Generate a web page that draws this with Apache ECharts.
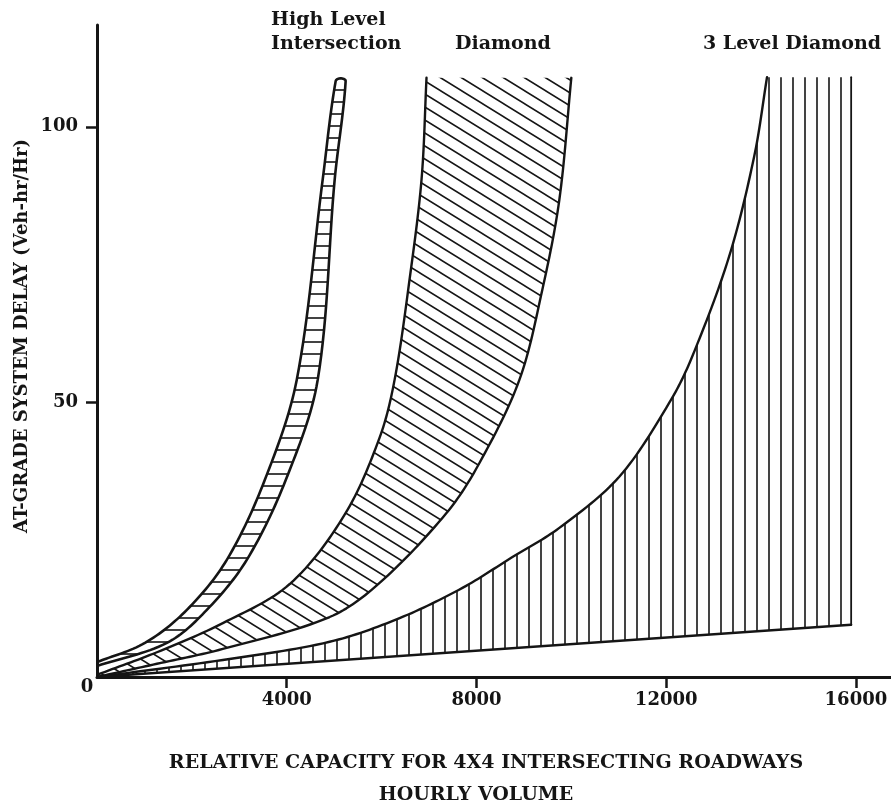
<!DOCTYPE html>
<html>
<head>
<meta charset="utf-8">
<script src="https://cdn.jsdelivr.net/npm/echarts@6/dist/echarts.min.js"></script>
<style>
  html, body { margin: 0; padding: 0; background: #fff; }
  #chart { width: 891px; height: 804px; }
</style>
</head>
<body>
<div id="chart"></div>
<script>
// Delay curves: [hourly volume, at-grade system delay (veh-hr/hr)]
const hliUpper = [[0, 2.7], [1011, 6.2], [1895, 12.2], [2737, 21.3], [3537, 35.8], [4211, 54], [4758, 90.4], [5032, 108.3]];
const hliLower = [[0, 2.0], [1474, 6.2], [2316, 12.2], [3158, 21.3], [3979, 35.8], [4653, 54], [5011, 90.4], [5242, 108.3]];
const hliCap = [[5137, 108.8]];

const diamondUpper = [[0, 0.4], [1263, 4.5], [2653, 9.8], [4063, 16.9], [5221, 29.5], [5958, 43.5], [6274, 54], [6589, 72.2], [6842, 90.4], [6947, 108.9]];
const diamondLower = [[0, 0], [1263, 2.4], [2653, 5.1], [4905, 10.9], [5958, 17.1], [7368, 29.8], [8063, 38.9], [8905, 54], [9389, 70.4], [9747, 86.7], [10000, 108.9]];

const threeUpper = [[0, 0], [2653, 3.1], [4905, 6.4], [6379, 10.7], [7705, 16.2], [8758, 21.8], [9747, 27.1], [11011, 36.4], [12063, 49.8], [12547, 58.2], [13326, 76.4], [13853, 94.5], [14126, 109]];
const threeLower = [[0, 0], [15900, 9.5]];
const threeEdge = [[15900, 9.5], [15900, 109]];

// Axis ticks
const xTicks = [4000, 8000, 12000, 16000];
const yTicks = [50, 100];

const INK = '#151515';
const FONT = 'DejaVu Serif';

// Hatch tiles used as repeating fills
function tile(w, h, draw) {
  const c = document.createElement('canvas');
  c.width = w; c.height = h;
  const g = c.getContext('2d');
  g.strokeStyle = INK;
  g.lineWidth = 1.6;
  g.beginPath();
  draw(g, w, h);
  g.stroke();
  return { image: c, repeat: 'repeat' };
}
const rungs = tile(12, 12, (g, w) => { g.moveTo(0, 6); g.lineTo(w, 6); });
const slants = tile(21, 13, (g, w, h) => {
  for (let k = -1; k <= 1; k++) {
    g.moveTo(-1, k * h - h / w);
    g.lineTo(w + 1, k * h + h + h / w);
  }
});
const verticals = tile(12, 12, (g, w, h) => { g.moveTo(1, 0); g.lineTo(1, h); });

// Smooth pixel path through the projected points (cubic segments with
// tangents taken from neighbouring points, handle length 1/3 of the chord).
function smoothPath(px) {
  const n = px.length;
  if (n < 3) return px.slice();
  const unit = (a, b) => {
    const dx = b[0] - a[0], dy = b[1] - a[1];
    const l = Math.hypot(dx, dy) || 1;
    return [dx / l, dy / l];
  };
  const tan = px.map((p, i) => unit(px[Math.max(0, i - 1)], px[Math.min(n - 1, i + 1)]));
  const out = [px[0]];
  for (let i = 0; i < n - 1; i++) {
    const a = px[i], b = px[i + 1];
    const d = Math.hypot(b[0] - a[0], b[1] - a[1]) / 3;
    const c1 = [a[0] + tan[i][0] * d, a[1] + tan[i][1] * d];
    const c2 = [b[0] - tan[i + 1][0] * d, b[1] - tan[i + 1][1] * d];
    const steps = 16;
    for (let s = 1; s <= steps; s++) {
      const t = s / steps, u = 1 - t;
      out.push([
        u * u * u * a[0] + 3 * u * u * t * c1[0] + 3 * u * t * t * c2[0] + t * t * t * b[0],
        u * u * u * a[1] + 3 * u * u * t * c1[1] + 3 * u * t * t * c2[1] + t * t * t * b[1]
      ]);
    }
  }
  return out;
}

// One shaded region: fill assembled from its pieces, plus its drawn edges
function region(data, fillPieces, edges, fill) {
  return {
    type: 'custom',
    coordinateSystem: 'cartesian2d',
    silent: true,
    clip: true,
    data: data,
    encode: { x: 0, y: 1 },
    renderItem: (params, api) => {
      if (params.dataIndex !== 0) return null;
      const proj = pts => pts.map(p => api.coord(p));
      const piece = pc => pc.smooth ? smoothPath(proj(pc.pts)) : proj(pc.pts);
      let poly = [];
      fillPieces.forEach(pc => {
        let px = piece(pc);
        if (pc.reverse) px = px.slice().reverse();
        poly = poly.concat(px);
      });
      const children = [{
        type: 'polygon',
        shape: { points: poly },
        style: { fill: fill, stroke: null },
        z2: 1
      }];
      edges.forEach(e => {
        children.push({
          type: 'polyline',
          shape: { points: e.smooth ? smoothPath(proj(e.pts)) : proj(e.pts) },
          style: { fill: null, stroke: INK, lineWidth: e.width, lineJoin: 'round', lineCap: 'round' },
          z2: 2
        });
      });
      return { type: 'group', children: children };
    }
  };
}

const hliChain = hliUpper.concat(hliCap, hliLower.slice().reverse());

const chart = echarts.init(document.getElementById('chart'), null, { renderer: 'canvas' });

const labelStyle = { color: INK, fontFamily: FONT, fontWeight: 'bold' };

chart.setOption({
  backgroundColor: '#ffffff',
  animation: false,
  grid: { left: 97, right: 0, top: 25, bottom: 127, containLabel: false },
  xAxis: {
    type: 'value',
    min: 0,
    max: 16740,
    splitLine: { show: false },
    axisLine: { lineStyle: { color: INK, width: 3 } },
    axisTick: { customValues: xTicks, length: 11, lineStyle: { color: INK, width: 2.5 } },
    axisLabel: Object.assign({ customValues: xTicks, fontSize: 18, margin: 14, formatter: v => String(v) }, labelStyle)
  },
  yAxis: {
    type: 'value',
    min: 0,
    max: 118.5,
    splitLine: { show: false },
    axisLine: { lineStyle: { color: INK, width: 3 } },
    axisTick: { customValues: yTicks, length: 11, lineStyle: { color: INK, width: 2.5 } },
    axisLabel: Object.assign({ customValues: yTicks, fontSize: 18, margin: 19, formatter: v => String(v) }, labelStyle)
  },
  series: [
    region(hliChain,
      [{ pts: hliChain, smooth: true }],
      [{ pts: hliChain, smooth: true, width: 2.6 }],
      rungs),
    region(diamondUpper,
      [{ pts: diamondUpper, smooth: true }, { pts: diamondLower, smooth: true, reverse: true }],
      [{ pts: diamondUpper, smooth: true, width: 2.4 }, { pts: diamondLower, smooth: true, width: 2.4 }],
      slants),
    region(threeUpper,
      [{ pts: threeUpper, smooth: true }, { pts: threeEdge.slice().reverse() }, { pts: threeLower.slice().reverse() }],
      [{ pts: threeUpper, smooth: true, width: 2.4 }, { pts: threeLower, width: 2.4 }, { pts: threeEdge, width: 1.8 }],
      verticals)
  ]
});

// Origin label and titles
const origin = chart.convertToPixel({ gridIndex: 0 }, [0, 0]);
const textStyle = (text, size, extra) => Object.assign({
  text: text, fill: INK, font: 'bold ' + size + 'px "' + FONT + '"'
}, extra || {});

chart.setOption({
  graphic: [
    { type: 'text', x: origin[0] - 10, y: origin[1] + 10,
      style: textStyle('0', 18, { align: 'center', verticalAlign: 'middle' }) },
    { type: 'text', x: 271, y: 20,
      style: textStyle('High Level', 19, { align: 'left', verticalAlign: 'middle' }) },
    { type: 'text', x: 271, y: 44,
      style: textStyle('Intersection', 19, { align: 'left', verticalAlign: 'middle' }) },
    { type: 'text', x: 455, y: 44,
      style: textStyle('Diamond', 19, { align: 'left', verticalAlign: 'middle' }) },
    { type: 'text', x: 703, y: 44,
      style: textStyle('3 Level Diamond', 19, { align: 'left', verticalAlign: 'middle' }) },
    { type: 'text', x: 486, y: 763,
      style: textStyle('RELATIVE CAPACITY FOR 4X4 INTERSECTING ROADWAYS', 19, { align: 'center', verticalAlign: 'middle' }) },
    { type: 'text', x: 476, y: 795,
      style: textStyle('HOURLY VOLUME', 19, { align: 'center', verticalAlign: 'middle' }) },
    { type: 'text', x: 22, y: 336, rotation: Math.PI / 2,
      style: textStyle('AT-GRADE SYSTEM DELAY (Veh-hr/Hr)', 18, { align: 'center', verticalAlign: 'middle' }) }
  ]
});
</script>
</body>
</html>
